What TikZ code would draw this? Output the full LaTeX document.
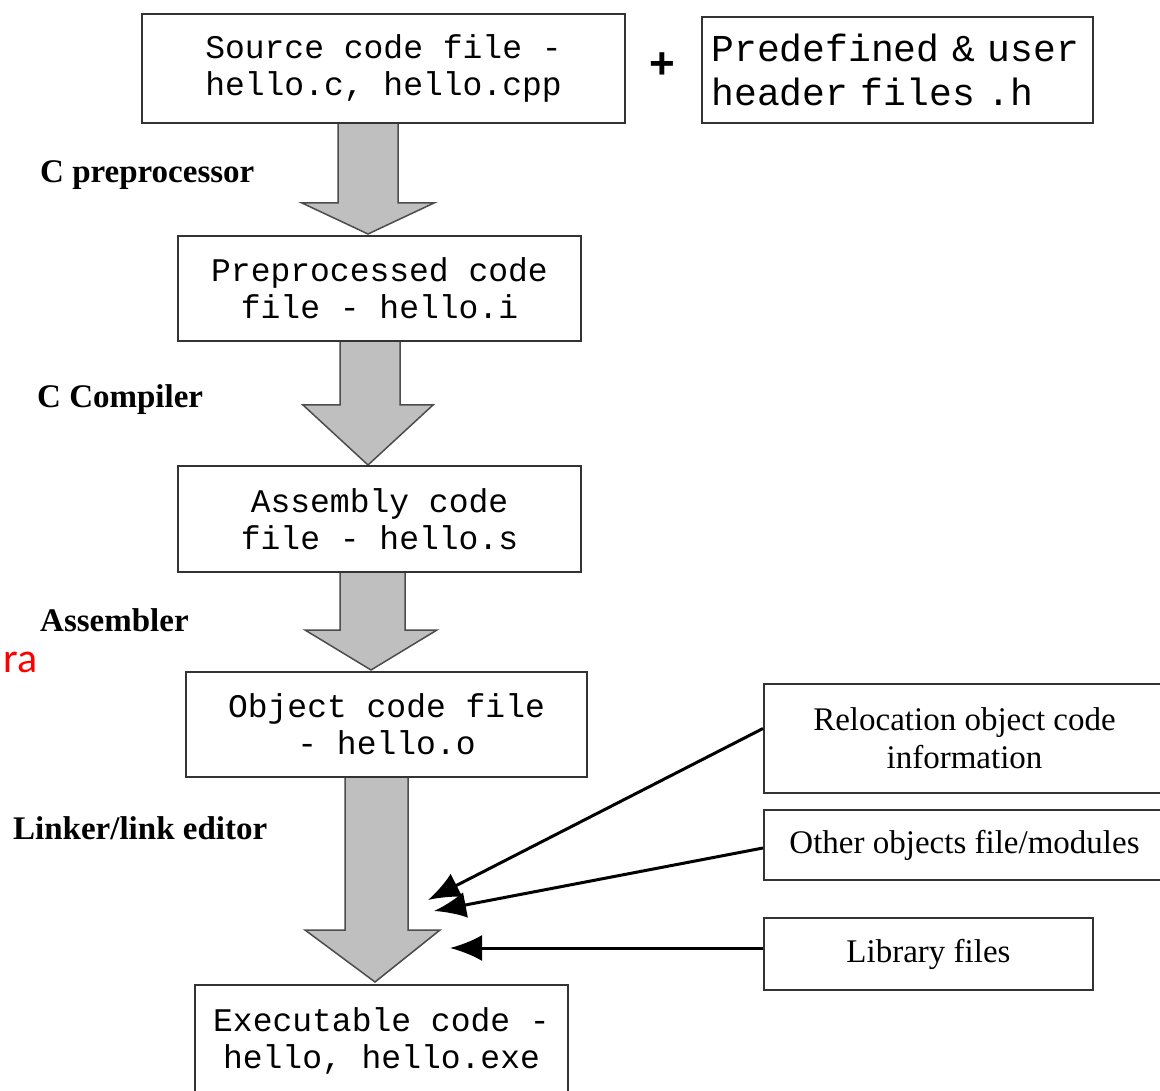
\documentclass[tikz,border=0pt]{standalone}
\usepackage{fontspec}
\setmainfont{Liberation Serif}
\newfontfamily\codefont{Liberation Mono}
\newfontfamily\plusfont{Liberation Sans}
\newfontfamily\redfont{Carlito}
\usetikzlibrary{arrows.meta,calc}
\begin{document}
\begin{tikzpicture}[x=1pt,y=-1pt,
  box/.style={draw=black!80,line width=2pt,fill=white,inner sep=0pt,align=center},
  flowbox/.style={box,font=\codefont\fontsize{33}{37}\selectfont},
  sidebox/.style={box,font=\fontsize{33}{38}\selectfont},
  steplabel/.style={font=\bfseries\fontsize{33}{36}\selectfont,anchor=west,inner sep=0pt},
  flow/.style={draw=black!70,fill=black!25,line width=1.5pt,line join=miter},
  link/.style={line width=3pt,-{Latex[length=32pt,width=26pt]}}]
\fill[white] (0,0) rectangle (1160,1091);
\useasboundingbox (0,0) rectangle (1160,1091);

% gray flow arrows
\draw[flow] (338,123) -- (398,123) -- (398,203) -- (434,203) -- (368,234) -- (302,203) -- (338,203) -- cycle;
\draw[flow] (340,341) -- (400,341) -- (400,405) -- (433,405) -- (368,465) -- (303,405) -- (340,405) -- cycle;
\draw[flow] (340,572) -- (405,572) -- (405,630) -- (437,630) -- (371,670) -- (305,630) -- (340,630) -- cycle;
\draw[flow] (345,777) -- (408,777) -- (408,930) -- (440,930) -- (375,982) -- (305,930) -- (345,930) -- cycle;

% main boxes
\node[flowbox,minimum width=483pt,minimum height=109pt] (src) at (383.5,68.5) {Source code file -\\hello.c, hello.cpp};
\node[box,font=\codefont\fontsize{38}{44}\selectfont,align=left,text width=372pt,minimum width=391pt,minimum height=106pt] (hdr) at (897.5,70) {Predefined \& user\\header files .h};
\node[font=\plusfont\bfseries\fontsize{44}{44}\selectfont,inner sep=0pt] (plus) at (662,66) {+};
\node[flowbox,minimum width=403pt,minimum height=105pt] (pre) at (379.5,288.5) {Preprocessed code\\file - hello.i};
\node[flowbox,minimum width=403pt,minimum height=106pt] (asm) at (379.5,519) {Assembly code\\file - hello.s};
\node[flowbox,minimum width=401pt,minimum height=105pt] (obj) at (386.5,724.5) {Object code file\\- hello.o};
\node[flowbox,minimum width=373pt,minimum height=112pt] (exe) at (381.5,1041) {Executable code -\\hello, hello.exe};

% step labels
\node[steplabel] (l1) at (40,175) {C preprocessor};
\node[steplabel] (l2) at (37,400) {C Compiler};
\node[steplabel] (l3) at (40,620) {Assembler};
\node[steplabel] (l4) at (13,828) {Linker/link editor};
\node[font=\redfont\fontsize{42}{44}\selectfont,text=red,anchor=base east,inner sep=0pt] (ra) at (38,672) {ra};

% side boxes
\node[sidebox,minimum width=401pt,minimum height=109pt] (reloc) at (964.5,738.5) {Relocation object code\\information};
\node[sidebox,minimum width=401pt,minimum height=70pt] (other) at (964.5,845) {Other objects file/modules};
\node[sidebox,minimum width=329pt,minimum height=72pt] (lib) at (928.5,954) {Library files};

% link arrows
\coordinate (t1) at (428,900);
\coordinate (t2) at (434,911);
\coordinate (t3) at (450,948);
\draw[link] ($(reloc.west)+(0,-10)$) -- (t1);
\draw[link] ($(other.west)+(0,3)$) -- (t2);
\draw[link] ($(lib.west)+(0,-6)$) -- (t3);
\end{tikzpicture}
\end{document}
